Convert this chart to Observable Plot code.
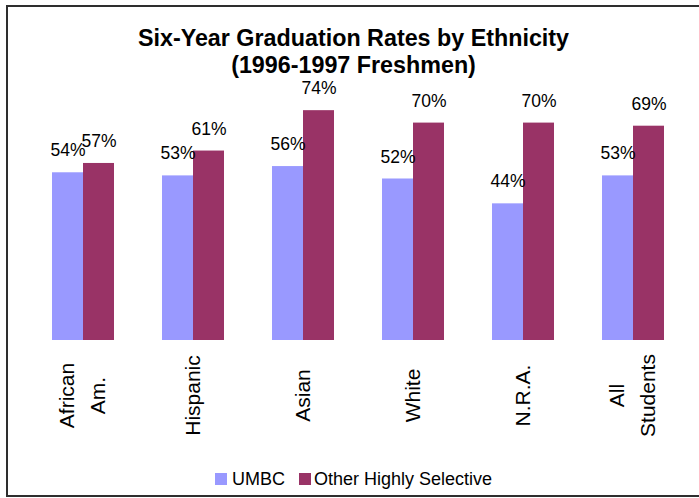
<!DOCTYPE html>
<html>
<head>
<meta charset="utf-8">
<script src="https://cdn.jsdelivr.net/npm/d3@7"></script>
<script src="https://cdn.jsdelivr.net/npm/@observablehq/plot@0.6"></script>
<style>
  html, body { margin: 0; padding: 0; background: #fff; }
  body { font-family: "Liberation Sans", Arial, sans-serif; }
  #wrap { position: relative; width: 699px; height: 498px; overflow: hidden; }
  #frame { position: absolute; left: 6px; top: 5px; width: 710px; height: 492px; box-sizing: border-box;
           border: 2px solid #2e2e2e; pointer-events: none; }
  #title { height: 76px; box-sizing: border-box; padding-top: 25px; text-align: center; padding-left: 8px;
           font-weight: bold; font-size: 23.3px; line-height: 27px; color: #000; white-space: nowrap; }
  #chart svg { display: block; overflow: visible; }
  #legend { display: flex; align-items: center; height: 20px; margin-top: 9px; padding-left: 215px;
            font-size: 18px; line-height: 18px; color: #000; white-space: nowrap; }
  .sw { display: inline-block; width: 12px; height: 12px; }
</style>
</head>
<body>
<div id="wrap">
  <div id="title">Six-Year Graduation Rates by Ethnicity<br>(1996-1997 Freshmen)</div>
  <div id="chart"></div>
  <div id="legend"></div>
  <div id="frame"></div>
</div>
<script>
const categories = ["African Am.", "Hispanic", "Asian", "White", "N.R.A.", "All Students"];
const categoryLabels = ["African\nAm.", "Hispanic", "Asian", "White", "N.R.A.", "All\nStudents"];
const series = ["UMBC", "Other Highly Selective"];
const umbc = [54, 53, 56, 52, 44, 53];
const otherSelective = [57, 61, 74, 70, 70, 69];
const colors = ["#9999FF", "#993366"];

const data = categories.flatMap((c, i) => [
  {cat: c, series: series[0], value: umbc[i]},
  {cat: c, series: series[1], value: otherSelective[i]}
]);
const labelOf = new Map(categories.map((c, i) => [c, categoryLabels[i]]));

const chart = Plot.plot({
  width: 699,
  height: 384,
  marginTop: 0,
  marginBottom: 120,
  marginLeft: 27,
  marginRight: 10,
  style: {fontFamily: '"Liberation Sans", Arial, sans-serif', background: "transparent", overflow: "visible"},
  fx: {domain: categories, paddingInner: 0.44, paddingOuter: 0.22, axis: null, label: null},
  x: {domain: series, padding: 0, axis: null},
  y: {domain: [0, 85], axis: null},
  color: {domain: series, range: colors},
  marks: [
    Plot.barY(data, {fx: "cat", x: "series", y: "value", fill: "series"}),
    Plot.text(data, {fx: "cat", x: "series", y: "value", text: d => d.value + "%",
      dy: -22, fontSize: 17.5, fill: "#000"}),
    Plot.text(categories, {fx: d => d, text: d => labelOf.get(d), frameAnchor: "bottom",
      rotate: -90, textAnchor: "middle", lineAnchor: "middle", lineHeight: 1.5,
      dy: 55, dx: -4, fontSize: 21, fill: "#000"})
  ]
});
document.getElementById("chart").appendChild(chart);

const color = chart.scale("color");
const legend = document.getElementById("legend");
series.forEach((s, i) => {
  const sw = document.createElement("span");
  sw.className = "sw";
  sw.style.background = color.range[i];
  sw.style.marginLeft = i === 0 ? "0px" : "14px";
  sw.style.marginRight = i === 0 ? "5px" : "3px";
  const t = document.createElement("span");
  t.textContent = s;
  legend.appendChild(sw);
  legend.appendChild(t);
});
</script>
</body>
</html>
